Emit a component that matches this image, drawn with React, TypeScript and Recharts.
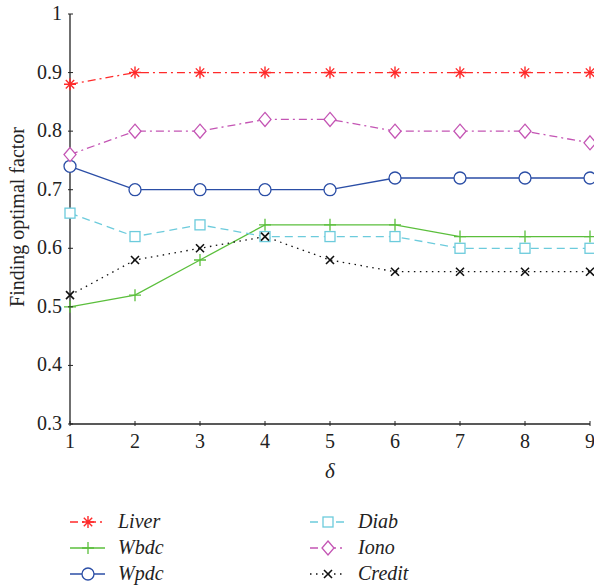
import React from "react";
import { LineChart, Line, XAxis, YAxis } from "recharts";

const deltas = [1, 2, 3, 4, 5, 6, 7, 8, 9];
const liver = [0.88, 0.9, 0.9, 0.9, 0.9, 0.9, 0.9, 0.9, 0.9];
const iono = [0.76, 0.8, 0.8, 0.82, 0.82, 0.8, 0.8, 0.8, 0.78];
const wpdc = [0.74, 0.7, 0.7, 0.7, 0.7, 0.72, 0.72, 0.72, 0.72];
const diab = [0.66, 0.62, 0.64, 0.62, 0.62, 0.62, 0.6, 0.6, 0.6];
const wbdc = [0.5, 0.52, 0.58, 0.64, 0.64, 0.64, 0.62, 0.62, 0.62];
const credit = [0.52, 0.58, 0.6, 0.62, 0.58, 0.56, 0.56, 0.56, 0.56];
const yTicks = [0.3, 0.4, 0.5, 0.6, 0.7, 0.8, 0.9, 1];

const data = deltas.map((d, i) => ({
  d,
  liver: liver[i],
  iono: iono[i],
  wpdc: wpdc[i],
  diab: diab[i],
  wbdc: wbdc[i],
  credit: credit[i],
}));

type Kind = "star" | "plus" | "circle" | "square" | "diamond" | "cross";

const series: { key: string; name: string; color: string; dash?: string; kind: Kind }[] = [
  { key: "liver", name: "Liver", color: "#ff2a2a", dash: "8 4 2 4", kind: "star" },
  { key: "wbdc", name: "Wbdc", color: "#5bbf3c", kind: "plus" },
  { key: "wpdc", name: "Wpdc", color: "#2b4ea6", kind: "circle" },
  { key: "diab", name: "Diab", color: "#6ccbdc", dash: "8 5", kind: "square" },
  { key: "iono", name: "Iono", color: "#c455b4", dash: "8 4 2 4", kind: "diamond" },
  { key: "credit", name: "Credit", color: "#111111", dash: "1.5 4.5", kind: "cross" },
];

const FONT = "'Liberation Serif', 'DejaVu Serif', serif";

function Mark({ kind, cx, cy, color }: { kind: Kind; cx: number; cy: number; color: string }) {
  const sw = 1.3;
  if (kind === "circle") return <circle cx={cx} cy={cy} r={6} fill="white" stroke={color} strokeWidth={sw} />;
  if (kind === "square")
    return <rect x={cx - 5} y={cy - 5} width={10} height={10} fill="white" stroke={color} strokeWidth={sw} />;
  if (kind === "diamond")
    return (
      <path
        d={`M${cx},${cy - 7} L${cx + 6},${cy} L${cx},${cy + 7} L${cx - 6},${cy} Z`}
        fill="white"
        stroke={color}
        strokeWidth={sw}
      />
    );
  if (kind === "plus")
    return <path d={`M${cx - 6},${cy} H${cx + 6} M${cx},${cy - 6} V${cy + 6}`} stroke={color} strokeWidth={sw} />;
  if (kind === "cross")
    return (
      <path
        d={`M${cx - 4},${cy - 4} L${cx + 4},${cy + 4} M${cx - 4},${cy + 4} L${cx + 4},${cy - 4}`}
        stroke={color}
        strokeWidth={1.6}
      />
    );
  return (
    <path
      d={`M${cx - 6},${cy} H${cx + 6} M${cx},${cy - 6} V${cy + 6} M${cx - 4.2},${cy - 4.2} L${cx + 4.2},${cy + 4.2} M${cx - 4.2},${cy + 4.2} L${cx + 4.2},${cy - 4.2}`}
      stroke={color}
      strokeWidth={1.4}
    />
  );
}

const LeftTick = (p: any) => (
  <g>
    <line x1={p.x} y1={p.y} x2={p.x + 5} y2={p.y} stroke="#222" />
    <text x={p.x - 6} y={p.y + 6} textAnchor="end" fontSize={20} fontFamily={FONT} fill="#222">
      {p.payload.value === 1 ? "1" : p.payload.value.toFixed(1)}
    </text>
  </g>
);
const RightTick = (p: any) => <line x1={p.x} y1={p.y} x2={p.x - 5} y2={p.y} stroke="#222" />;
const BottomTick = (p: any) => (
  <g>
    <line x1={p.x} y1={p.y} x2={p.x} y2={p.y - 5} stroke="#222" />
    <text x={p.x} y={p.y + 22} textAnchor="middle" fontSize={20} fontFamily={FONT} fill="#222">
      {p.payload.value}
    </text>
  </g>
);
const TopTick = (p: any) => <line x1={p.x} y1={p.y} x2={p.x} y2={p.y + 5} stroke="#222" />;

function ChartLegend() {
  const cols = [series.slice(0, 3), series.slice(3)];
  return (
    <svg width={594} height={80} style={{ position: "absolute", left: 0, top: 508 }}>
      {cols.map((col, ci) =>
        col.map((s, ri) => {
          const x0 = ci === 0 ? 70 : 310;
          const y = 14 + ri * 26;
          return (
            <g key={s.key}>
              <line x1={x0} y1={y} x2={x0 + 35} y2={y} stroke={s.color} strokeWidth={1.3} strokeDasharray={s.dash} />
              <Mark kind={s.kind} cx={x0 + 18} cy={y} color={s.color} />
              <text x={x0 + 48} y={y + 6} fontSize={20} fontStyle="italic" fontFamily={FONT} fill="#222">
                {s.name}
              </text>
            </g>
          );
        })
      )}
    </svg>
  );
}

export default function App() {
  return (
    <div style={{ position: "absolute", left: 0, top: 0, width: 594, height: 588, background: "white" }}>
      <LineChart width={594} height={588} data={data} margin={{ top: 14, right: 4, bottom: 124, left: 0 }}>
        <XAxis
          dataKey="d"
          type="number"
          domain={[1, 9]}
          ticks={deltas}
          height={40}
          tickSize={0}
          tickLine={false}
          tick={BottomTick}
          axisLine={{ stroke: "#222", strokeWidth: 1.3 }}
          label={{ value: "δ", position: "bottom", offset: -1, fontSize: 21, fontStyle: "italic", fontFamily: FONT, fill: "#222" }}
        />
        <XAxis
          xAxisId="top"
          orientation="top"
          dataKey="d"
          type="number"
          domain={[1, 9]}
          ticks={deltas}
          height={0}
          tickSize={0}
          tickLine={false}
          tick={TopTick}
          axisLine={{ stroke: "#222", strokeWidth: 1.3 }}
        />
        <YAxis
          type="number"
          domain={[0.3, 1]}
          ticks={yTicks}
          width={70}
          tickSize={0}
          tickLine={false}
          tick={LeftTick}
          axisLine={{ stroke: "#222", strokeWidth: 1.3 }}
          label={{
            value: "Finding optimal factor",
            angle: -90,
            position: "insideLeft",
            dx: 12,
            dy: -2,
            fontSize: 20,
            fontFamily: FONT,
            fill: "#222",
            style: { textAnchor: "middle" },
          }}
        />
        <YAxis
          yAxisId="right"
          orientation="right"
          type="number"
          domain={[0.3, 1]}
          ticks={yTicks}
          width={0}
          tickSize={0}
          tickLine={false}
          tick={RightTick}
          axisLine={{ stroke: "#222", strokeWidth: 1.3 }}
        />
        {series.map((s) => (
          <Line
            key={s.key}
            dataKey={s.key}
            name={s.name}
            stroke={s.color}
            strokeWidth={1.3}
            strokeDasharray={s.dash}
            isAnimationActive={false}
            dot={(p: any) => <Mark key={`${s.key}-${p.index}`} kind={s.kind} cx={p.cx} cy={p.cy} color={s.color} />}
            activeDot={false}
          />
        ))}
      </LineChart>
      <ChartLegend />
    </div>
  );
}
